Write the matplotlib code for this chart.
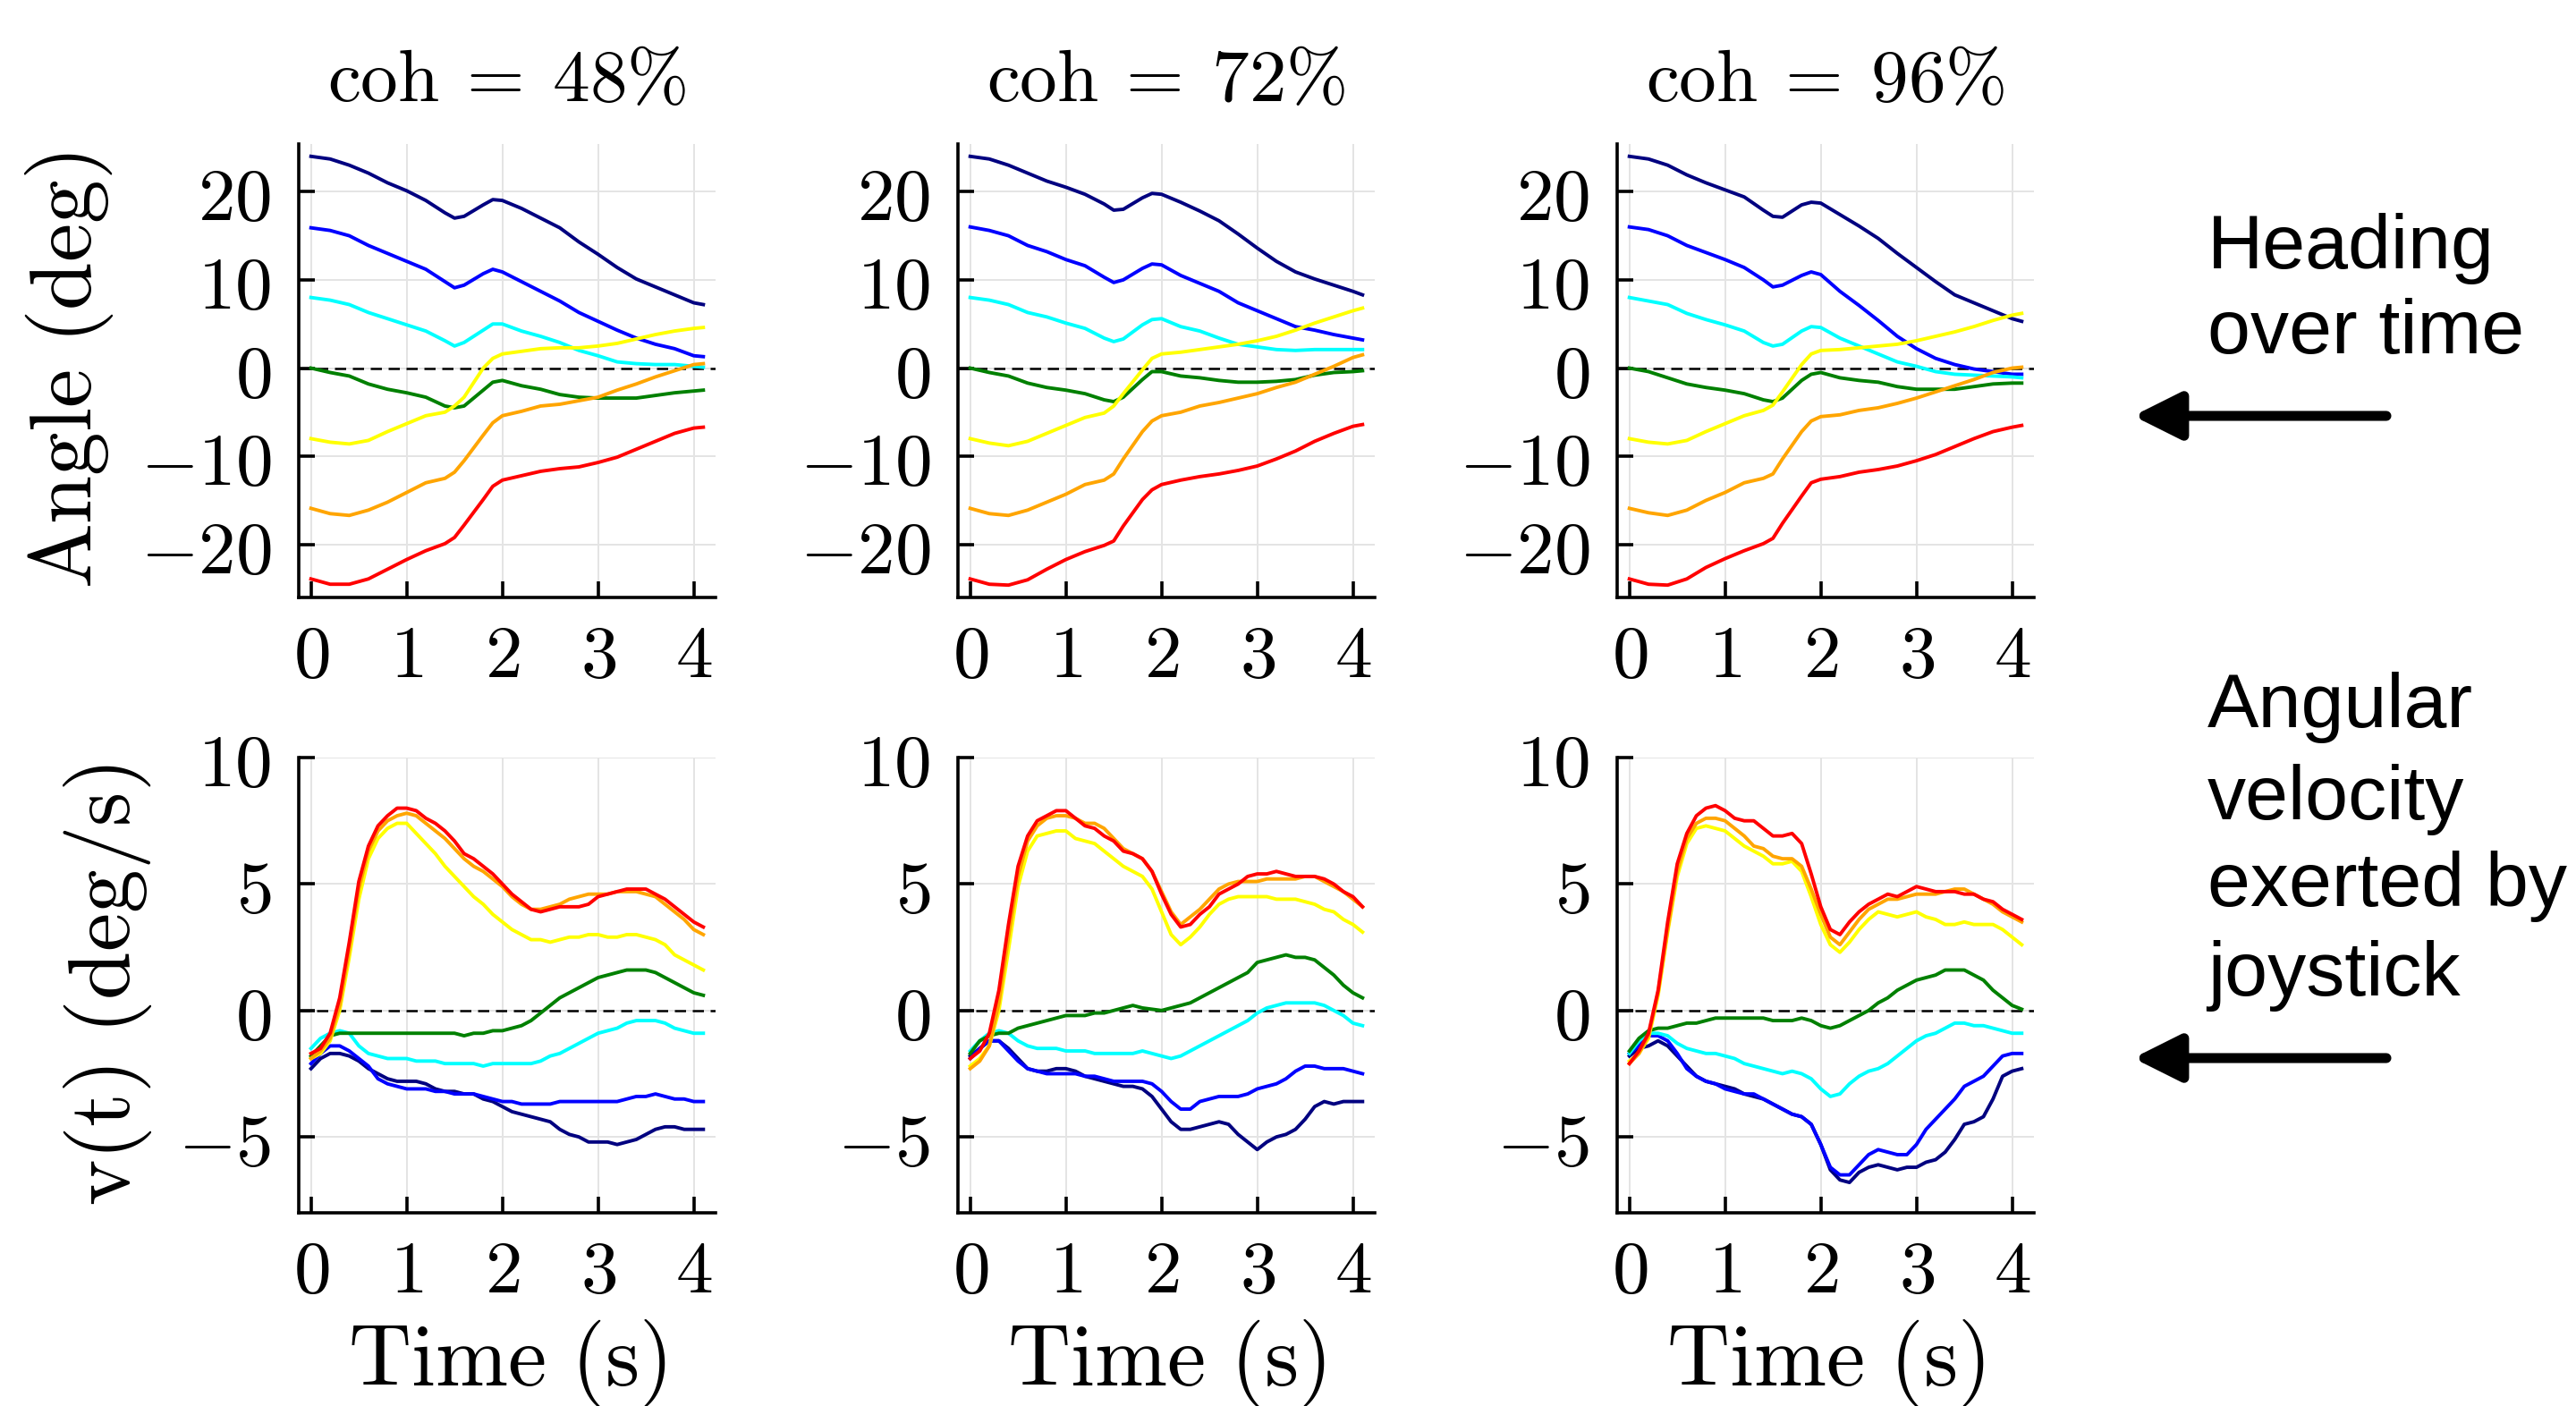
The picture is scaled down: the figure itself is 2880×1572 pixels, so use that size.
import matplotlib
matplotlib.use("Agg")
import matplotlib.pyplot as plt
from matplotlib.ticker import FuncFormatter

plt.rcParams['mathtext.fontset'] = 'cm'

# ---- data ----
t_head = [0, 0.2, 0.4, 0.6, 0.8, 1.0, 1.2, 1.4, 1.5, 1.6, 1.8, 1.9,
          2.0, 2.2, 2.4, 2.6, 2.8, 3.0, 3.2, 3.4, 3.6, 3.8, 4.0, 4.1]
t_vel = [0.0, 0.1, 0.2, 0.3, 0.4, 0.5, 0.6, 0.7, 0.8, 0.9,
         1.0, 1.1, 1.2, 1.3, 1.4, 1.5, 1.6, 1.7, 1.8, 1.9,
         2.0, 2.1, 2.2, 2.3, 2.4, 2.5, 2.6, 2.7, 2.8, 2.9,
         3.0, 3.1, 3.2, 3.3, 3.4, 3.5, 3.6, 3.7, 3.8, 3.9,
         4.0, 4.1]

coh_labels = ['48', '72', '96']
series_names = ['navy', 'blue', 'cyan', 'green', 'yellow', 'orange', 'red']
series_colors = ['#000080', '#0000ff', '#00ffff', '#008000', '#ffff00', '#ffa500', '#ff0000']

# heading, coh = 48%
head48_navy = [24.0, 23.7, 23.0, 22.1, 21.0, 20.1, 19.0, 17.6, 17.0, 17.2, 18.5, 19.1, 19.0, 18.1, 17.0, 15.9, 14.3, 12.9, 11.4, 10.1, 9.2, 8.3, 7.4, 7.2]
head48_blue = [15.9, 15.6, 15.0, 13.9, 13.0, 12.1, 11.2, 9.8, 9.1, 9.4, 10.7, 11.2, 10.9, 9.8, 8.7, 7.6, 6.3, 5.3, 4.3, 3.4, 2.7, 2.2, 1.4, 1.3]
head48_cyan = [8.0, 7.7, 7.2, 6.3, 5.6, 4.9, 4.2, 3.1, 2.5, 2.9, 4.3, 5.0, 5.0, 4.2, 3.6, 2.9, 2.0, 1.4, 0.7, 0.5, 0.4, 0.4, 0.2, 0.1]
head48_green = [0.0, -0.5, -0.9, -1.8, -2.4, -2.8, -3.3, -4.3, -4.5, -4.3, -2.5, -1.6, -1.4, -2.0, -2.4, -3.0, -3.3, -3.4, -3.4, -3.4, -3.1, -2.8, -2.6, -2.5]
head48_yellow = [-8.0, -8.4, -8.6, -8.2, -7.2, -6.3, -5.4, -5.0, -4.3, -3.3, 0.0, 1.1, 1.6, 1.9, 2.2, 2.3, 2.3, 2.5, 2.8, 3.3, 3.8, 4.2, 4.5, 4.6]
head48_orange = [-15.9, -16.5, -16.7, -16.1, -15.2, -14.1, -13.0, -12.5, -11.8, -10.5, -7.6, -6.2, -5.4, -4.9, -4.3, -4.1, -3.7, -3.3, -2.5, -1.8, -1.0, -0.3, 0.4, 0.5]
head48_red = [-23.9, -24.5, -24.5, -23.9, -22.8, -21.7, -20.7, -19.9, -19.2, -17.8, -14.9, -13.4, -12.7, -12.2, -11.7, -11.4, -11.2, -10.7, -10.1, -9.2, -8.3, -7.4, -6.8, -6.7]

# heading, coh = 72%
head72_navy = [24.0, 23.7, 23.0, 22.1, 21.2, 20.5, 19.7, 18.6, 17.9, 18.0, 19.3, 19.8, 19.7, 18.8, 17.8, 16.7, 15.2, 13.6, 12.1, 10.9, 10.1, 9.4, 8.7, 8.3]
head72_blue = [16.0, 15.6, 15.0, 13.9, 13.2, 12.3, 11.6, 10.3, 9.7, 10.0, 11.3, 11.8, 11.7, 10.5, 9.6, 8.7, 7.4, 6.5, 5.6, 4.7, 4.3, 3.8, 3.4, 3.2]
head72_cyan = [8.0, 7.7, 7.2, 6.3, 5.8, 5.1, 4.5, 3.4, 3.0, 3.3, 4.9, 5.5, 5.6, 4.7, 4.2, 3.4, 2.7, 2.4, 2.1, 2.0, 2.1, 2.1, 2.1, 2.1]
head72_green = [0.0, -0.5, -0.9, -1.7, -2.2, -2.5, -2.9, -3.6, -3.8, -3.3, -1.3, -0.4, -0.4, -0.9, -1.1, -1.4, -1.6, -1.6, -1.5, -1.3, -0.8, -0.5, -0.4, -0.3]
head72_yellow = [-8.0, -8.5, -8.8, -8.3, -7.4, -6.5, -5.6, -5.1, -4.3, -2.9, -0.2, 1.1, 1.6, 1.8, 2.1, 2.4, 2.7, 3.1, 3.6, 4.3, 5.1, 5.8, 6.5, 6.8]
head72_orange = [-15.9, -16.5, -16.7, -16.1, -15.2, -14.3, -13.2, -12.7, -12.0, -10.3, -7.2, -6.0, -5.4, -5.0, -4.3, -3.9, -3.4, -2.9, -2.2, -1.6, -0.7, 0.2, 1.2, 1.5]
head72_red = [-23.9, -24.5, -24.6, -24.0, -22.8, -21.7, -20.8, -20.1, -19.6, -17.9, -14.9, -13.8, -13.2, -12.7, -12.3, -12.0, -11.6, -11.1, -10.3, -9.4, -8.3, -7.4, -6.6, -6.4]

# heading, coh = 96%
head96_navy = [24.0, 23.7, 23.0, 21.9, 21.0, 20.2, 19.4, 17.9, 17.2, 17.1, 18.5, 18.8, 18.7, 17.4, 16.1, 14.7, 13.0, 11.4, 9.8, 8.3, 7.4, 6.5, 5.6, 5.3]
head96_blue = [16.0, 15.7, 15.0, 13.9, 13.1, 12.3, 11.4, 10.0, 9.2, 9.4, 10.5, 10.9, 10.6, 8.7, 7.1, 5.4, 3.6, 2.2, 1.1, 0.4, -0.1, -0.4, -0.7, -0.7]
head96_cyan = [8.0, 7.6, 7.2, 6.2, 5.5, 4.9, 4.2, 2.9, 2.5, 2.7, 4.2, 4.7, 4.6, 3.4, 2.5, 1.6, 0.7, 0.2, -0.4, -0.7, -0.8, -0.9, -1.0, -1.1]
head96_green = [0.0, -0.4, -1.1, -1.8, -2.2, -2.5, -2.9, -3.6, -3.8, -3.4, -1.4, -0.7, -0.5, -1.1, -1.4, -1.6, -2.1, -2.4, -2.4, -2.4, -2.1, -1.8, -1.7, -1.7]
head96_yellow = [-8.0, -8.4, -8.6, -8.2, -7.2, -6.3, -5.4, -4.8, -4.2, -2.7, 0.4, 1.6, 2.0, 2.1, 2.3, 2.5, 2.7, 3.1, 3.6, 4.1, 4.7, 5.4, 6.0, 6.2]
head96_orange = [-15.9, -16.4, -16.7, -16.1, -15.0, -14.1, -13.0, -12.5, -12.0, -10.3, -7.2, -6.0, -5.5, -5.3, -4.8, -4.5, -4.0, -3.4, -2.7, -2.0, -1.3, -0.5, 0.0, 0.1]
head96_red = [-23.9, -24.5, -24.6, -23.9, -22.6, -21.6, -20.7, -19.9, -19.3, -17.6, -14.5, -13.0, -12.6, -12.3, -11.8, -11.5, -11.1, -10.5, -9.8, -8.9, -8.0, -7.2, -6.7, -6.5]

# angular velocity, coh = 48%
vel48_navy = [-2.3, -1.9, -1.7, -1.7, -1.8, -2.0, -2.3, -2.5, -2.7, -2.8, -2.8, -2.8, -2.9, -3.1, -3.2, -3.2, -3.3, -3.3, -3.5, -3.6, -3.8, -4.0, -4.1, -4.2, -4.3, -4.4, -4.7, -4.9, -5.0, -5.2, -5.2, -5.2, -5.3, -5.2, -5.1, -4.9, -4.7, -4.6, -4.6, -4.7, -4.7, -4.7]
vel48_blue = [-2.1, -1.7, -1.4, -1.4, -1.6, -1.9, -2.2, -2.7, -2.9, -3.0, -3.1, -3.1, -3.1, -3.2, -3.2, -3.3, -3.3, -3.3, -3.4, -3.5, -3.6, -3.6, -3.7, -3.7, -3.7, -3.7, -3.6, -3.6, -3.6, -3.6, -3.6, -3.6, -3.6, -3.5, -3.4, -3.4, -3.3, -3.4, -3.5, -3.5, -3.6, -3.6]
vel48_cyan = [-1.5, -1.1, -0.9, -0.8, -0.9, -1.4, -1.7, -1.8, -1.9, -1.9, -1.9, -2.0, -2.0, -2.0, -2.1, -2.1, -2.1, -2.1, -2.2, -2.1, -2.1, -2.1, -2.1, -2.1, -2.0, -1.8, -1.7, -1.5, -1.3, -1.1, -0.9, -0.8, -0.7, -0.5, -0.4, -0.4, -0.4, -0.5, -0.7, -0.8, -0.9, -0.9]
vel48_green = [-1.8, -1.4, -1.0, -0.9, -0.9, -0.9, -0.9, -0.9, -0.9, -0.9, -0.9, -0.9, -0.9, -0.9, -0.9, -0.9, -1.0, -0.9, -0.9, -0.8, -0.8, -0.7, -0.6, -0.4, -0.1, 0.2, 0.5, 0.7, 0.9, 1.1, 1.3, 1.4, 1.5, 1.6, 1.6, 1.6, 1.5, 1.3, 1.1, 0.9, 0.7, 0.6]
vel48_yellow = [-1.9, -1.7, -1.2, 0.0, 2.1, 4.4, 6.0, 6.8, 7.2, 7.4, 7.4, 7.0, 6.6, 6.2, 5.7, 5.3, 4.9, 4.5, 4.2, 3.8, 3.5, 3.2, 3.0, 2.8, 2.8, 2.7, 2.8, 2.9, 2.9, 3.0, 3.0, 2.9, 2.9, 3.0, 3.0, 2.9, 2.8, 2.6, 2.2, 2.0, 1.8, 1.6]
vel48_orange = [-1.9, -1.6, -1.1, 0.2, 2.4, 4.8, 6.3, 7.1, 7.5, 7.7, 7.8, 7.7, 7.4, 7.1, 6.8, 6.4, 6.0, 5.7, 5.5, 5.2, 4.9, 4.5, 4.2, 4.0, 4.0, 4.1, 4.2, 4.4, 4.5, 4.6, 4.6, 4.6, 4.7, 4.7, 4.7, 4.6, 4.5, 4.2, 3.9, 3.6, 3.2, 3.0]
vel48_red = [-1.7, -1.5, -0.9, 0.5, 2.7, 5.1, 6.5, 7.3, 7.7, 8.0, 8.0, 7.9, 7.6, 7.4, 7.1, 6.7, 6.2, 6.0, 5.7, 5.4, 5.0, 4.6, 4.3, 4.0, 3.9, 4.0, 4.1, 4.1, 4.1, 4.2, 4.5, 4.6, 4.7, 4.8, 4.8, 4.8, 4.6, 4.4, 4.1, 3.8, 3.5, 3.3]

# angular velocity, coh = 72%
vel72_navy = [-1.8, -1.5, -1.2, -1.2, -1.5, -1.9, -2.3, -2.4, -2.4, -2.3, -2.3, -2.4, -2.6, -2.7, -2.8, -2.9, -3.0, -3.0, -3.1, -3.4, -3.9, -4.4, -4.7, -4.7, -4.6, -4.5, -4.4, -4.5, -4.9, -5.2, -5.5, -5.2, -5.0, -4.9, -4.7, -4.3, -3.8, -3.6, -3.7, -3.6, -3.6, -3.6]
vel72_blue = [-1.9, -1.5, -1.2, -1.2, -1.6, -2.0, -2.3, -2.4, -2.5, -2.5, -2.5, -2.5, -2.6, -2.6, -2.7, -2.8, -2.8, -2.8, -2.8, -2.9, -3.2, -3.6, -3.9, -3.9, -3.6, -3.5, -3.4, -3.4, -3.4, -3.3, -3.1, -3.0, -2.9, -2.7, -2.4, -2.2, -2.2, -2.3, -2.3, -2.3, -2.4, -2.5]
vel72_cyan = [-1.6, -1.2, -0.9, -0.8, -0.9, -1.2, -1.4, -1.5, -1.5, -1.5, -1.6, -1.6, -1.6, -1.7, -1.7, -1.7, -1.7, -1.7, -1.6, -1.7, -1.8, -1.9, -1.8, -1.6, -1.4, -1.2, -1.0, -0.8, -0.6, -0.4, -0.1, 0.1, 0.2, 0.3, 0.3, 0.3, 0.3, 0.2, 0.0, -0.2, -0.5, -0.6]
vel72_green = [-1.7, -1.2, -1.0, -0.9, -0.9, -0.7, -0.6, -0.5, -0.4, -0.3, -0.2, -0.2, -0.2, -0.1, -0.1, 0.0, 0.1, 0.2, 0.1, 0.05, 0.0, 0.1, 0.2, 0.3, 0.5, 0.7, 0.9, 1.1, 1.3, 1.5, 1.9, 2.0, 2.1, 2.2, 2.1, 2.1, 2.0, 1.7, 1.4, 1.0, 0.7, 0.5]
vel72_yellow = [-2.2, -1.9, -1.4, 0.0, 2.4, 4.9, 6.3, 6.9, 7.0, 7.1, 7.1, 6.8, 6.7, 6.6, 6.3, 6.0, 5.7, 5.5, 5.3, 4.8, 3.9, 3.0, 2.6, 2.9, 3.3, 3.8, 4.2, 4.4, 4.5, 4.5, 4.5, 4.5, 4.4, 4.4, 4.4, 4.3, 4.2, 4.0, 3.9, 3.6, 3.4, 3.1]
vel72_orange = [-2.3, -2.0, -1.4, 0.3, 2.9, 5.3, 6.7, 7.3, 7.6, 7.7, 7.7, 7.6, 7.4, 7.4, 7.2, 6.8, 6.4, 6.2, 6.0, 5.5, 4.7, 3.9, 3.4, 3.7, 4.0, 4.4, 4.8, 5.0, 5.1, 5.1, 5.1, 5.2, 5.2, 5.2, 5.2, 5.3, 5.3, 5.1, 4.9, 4.7, 4.4, 4.1]
vel72_red = [-1.9, -1.6, -0.9, 0.8, 3.4, 5.7, 6.9, 7.5, 7.7, 7.9, 7.9, 7.6, 7.3, 7.2, 6.9, 6.7, 6.3, 6.2, 6.0, 5.5, 4.6, 3.8, 3.3, 3.4, 3.8, 4.1, 4.6, 4.8, 5.0, 5.3, 5.4, 5.4, 5.5, 5.4, 5.3, 5.3, 5.3, 5.2, 5.0, 4.7, 4.5, 4.1]

# angular velocity, coh = 96%
vel96_navy = [-1.8, -1.5, -1.4, -1.2, -1.4, -1.8, -2.2, -2.6, -2.8, -2.9, -3.0, -3.1, -3.3, -3.4, -3.5, -3.7, -3.9, -4.1, -4.2, -4.5, -5.3, -6.3, -6.7, -6.8, -6.4, -6.2, -6.1, -6.2, -6.3, -6.2, -6.2, -6.0, -5.9, -5.6, -5.1, -4.5, -4.4, -4.2, -3.5, -2.6, -2.4, -2.3]
vel96_blue = [-1.7, -1.4, -1.0, -1.0, -1.2, -1.7, -2.3, -2.6, -2.8, -2.9, -3.1, -3.2, -3.3, -3.3, -3.5, -3.7, -3.9, -4.1, -4.2, -4.5, -5.3, -6.2, -6.5, -6.5, -6.1, -5.7, -5.5, -5.6, -5.7, -5.7, -5.3, -4.7, -4.3, -3.9, -3.5, -3.0, -2.8, -2.6, -2.2, -1.8, -1.7, -1.7]
vel96_cyan = [-1.7, -1.2, -0.9, -0.9, -1.0, -1.3, -1.5, -1.6, -1.7, -1.7, -1.8, -1.9, -2.1, -2.2, -2.3, -2.4, -2.5, -2.4, -2.5, -2.7, -3.1, -3.4, -3.3, -2.9, -2.6, -2.4, -2.3, -2.1, -1.8, -1.5, -1.2, -1.0, -0.9, -0.7, -0.5, -0.5, -0.6, -0.6, -0.7, -0.8, -0.9, -0.9]
vel96_green = [-1.6, -1.1, -0.8, -0.7, -0.7, -0.6, -0.5, -0.5, -0.4, -0.3, -0.3, -0.3, -0.3, -0.3, -0.3, -0.4, -0.4, -0.4, -0.3, -0.4, -0.6, -0.7, -0.6, -0.4, -0.2, 0.0, 0.3, 0.5, 0.8, 1.0, 1.2, 1.3, 1.4, 1.6, 1.6, 1.6, 1.4, 1.2, 0.8, 0.5, 0.2, 0.05]
vel96_yellow = [-2.0, -1.7, -1.1, 0.6, 3.1, 5.3, 6.6, 7.2, 7.3, 7.2, 7.1, 6.8, 6.5, 6.3, 6.1, 5.8, 5.8, 5.9, 5.5, 4.5, 3.4, 2.6, 2.3, 2.7, 3.2, 3.6, 3.9, 3.8, 3.7, 3.8, 3.9, 3.7, 3.6, 3.4, 3.4, 3.5, 3.4, 3.4, 3.4, 3.2, 2.9, 2.6]
vel96_orange = [-2.1, -1.7, -1.0, 0.7, 3.2, 5.5, 6.8, 7.4, 7.6, 7.6, 7.5, 7.2, 6.9, 6.5, 6.4, 6.1, 6.0, 6.0, 5.7, 4.8, 3.8, 2.9, 2.6, 3.1, 3.6, 4.0, 4.2, 4.4, 4.4, 4.5, 4.6, 4.6, 4.6, 4.7, 4.8, 4.8, 4.6, 4.4, 4.2, 3.9, 3.7, 3.5]
vel96_red = [-2.1, -1.6, -0.9, 0.8, 3.5, 5.8, 7.0, 7.7, 8.0, 8.1, 7.9, 7.6, 7.5, 7.5, 7.2, 6.9, 6.9, 7.0, 6.6, 5.4, 4.1, 3.2, 3.0, 3.5, 3.9, 4.2, 4.4, 4.6, 4.5, 4.7, 4.9, 4.8, 4.7, 4.7, 4.7, 4.6, 4.6, 4.4, 4.3, 4.0, 3.8, 3.6]

heading = {
    '48': [head48_navy, head48_blue, head48_cyan, head48_green, head48_yellow, head48_orange, head48_red],
    '72': [head72_navy, head72_blue, head72_cyan, head72_green, head72_yellow, head72_orange, head72_red],
    '96': [head96_navy, head96_blue, head96_cyan, head96_green, head96_yellow, head96_orange, head96_red],
}
velocity = {
    '48': [vel48_navy, vel48_blue, vel48_cyan, vel48_green, vel48_yellow, vel48_orange, vel48_red],
    '72': [vel72_navy, vel72_blue, vel72_cyan, vel72_green, vel72_yellow, vel72_orange, vel72_red],
    '96': [vel96_navy, vel96_blue, vel96_cyan, vel96_green, vel96_yellow, vel96_orange, vel96_red],
}

# ---- layout ----
W, H = 2880, 1572
fig = plt.figure(figsize=(W / 200, H / 200), dpi=200)

col_left = [334, 1071, 1808]
col_width = 466
rows = {'top': (161, 668), 'bottom': (847, 1356)}


def mathfmt(v, pos):
    return '$%g$' % v


def make_axes(x0, row):
    y0, y1 = rows[row]
    return fig.add_axes([x0 / W, 1 - y1 / H, col_width / W, (y1 - y0) / H])


def style(ax, ylim, yticks):
    ax.set_xlim(-0.128, 4.228)
    ax.set_ylim(*ylim)
    ax.set_xticks([0, 1, 2, 3, 4])
    ax.set_yticks(yticks)
    ax.xaxis.set_major_formatter(FuncFormatter(mathfmt))
    ax.yaxis.set_major_formatter(FuncFormatter(mathfmt))
    for side in ['top', 'right']:
        ax.spines[side].set_visible(False)
    for side in ['left', 'bottom']:
        ax.spines[side].set_linewidth(1.3)
    ax.tick_params(direction='in', length=6.5, width=1.3, labelsize=30, pad=11)
    ax.tick_params(axis='x', pad=9)
    ax.grid(True, color='#e4e4e4', linewidth=0.7)
    ax.set_axisbelow(True)
    ax.axhline(0, color='black', linewidth=0.9, dashes=(5, 3), zorder=1.5)


for i, coh in enumerate(coh_labels):
    ax_h = make_axes(col_left[i], 'top')
    style(ax_h, (-26.0, 25.4), [-20, -10, 0, 10, 20])
    for vals, c in zip(heading[coh], series_colors):
        ax_h.plot(t_head, vals, color=c, linewidth=1.4, zorder=2)

    ax_v = make_axes(col_left[i], 'bottom')
    style(ax_v, (-8.0, 10.0), [-5, 0, 5, 10])
    for vals, c in zip(velocity[coh], series_colors):
        ax_v.plot(t_vel, vals, color=c, linewidth=1.4, zorder=2)
    ax_v.set_xlabel(r'$\mathrm{Time\ (s)}$', fontsize=35, labelpad=4)

    fig.text((col_left[i] + col_width / 2) / W, 1 - 113 / H,
             r'$\mathrm{coh}\:=\:%s\%%$' % coh, fontsize=30,
             ha='center', va='baseline')

    if i == 0:
        ax_h.set_ylabel(r'$\mathrm{Angle\ (deg)}$', fontsize=35, labelpad=10)
        ax_v.set_ylabel(r'$\mathrm{v(t)\ (deg/s)}$', fontsize=35, labelpad=10)

# ---- side annotations ----
side_font = dict(fontsize=31, family='Liberation Sans', ha='left', va='baseline')
text_x = 2468 / W
for line, y in [('Heading', 300), ('over time', 395),
                ('Angular', 813), ('velocity', 916), ('exerted by', 1013), ('joystick', 1113)]:
    fig.text(text_x, 1 - y / H, line, **side_font)

for y in [465, 1183]:
    fig.patches.append(matplotlib.patches.FancyArrowPatch(
        (2668 / W, 1 - y / H), (2385 / W, 1 - y / H),
        transform=fig.transFigure, figure=fig,
        arrowstyle='-|>,head_length=0.8,head_width=0.4', mutation_scale=20,
        linewidth=4, color='black', shrinkA=0, shrinkB=0))

fig.savefig('out.png', dpi=200)
